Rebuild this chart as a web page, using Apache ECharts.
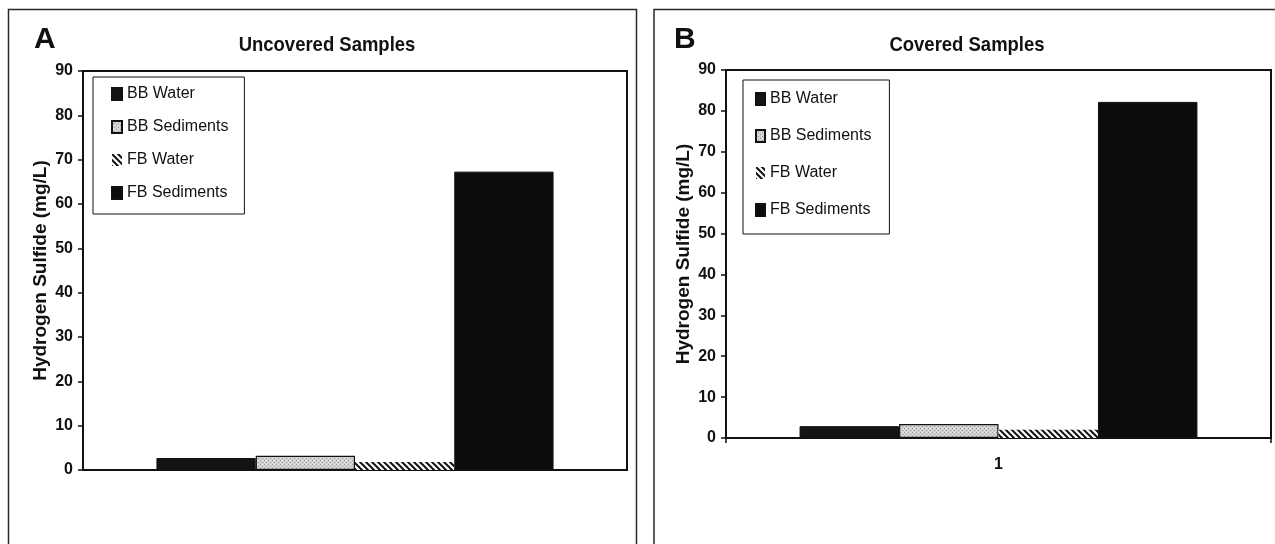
<!DOCTYPE html>
<html>
<head>
<meta charset="utf-8">
<title>Hydrogen Sulfide — Uncovered vs Covered Samples</title>
<script src="https://cdn.jsdelivr.net/npm/echarts@6/dist/echarts.min.js"></script>
<style>
  html, body { margin: 0; padding: 0; background: #fff; }
  #chart { width: 1275px; height: 544px; }
</style>
</head>
<body>
<div id="chart"></div>
<script>
// Sample group shared by both panels
const categories = ['1'];
const seriesNames = ['BB Water', 'BB Sediments', 'FB Water', 'FB Sediments'];

// Hydrogen sulfide concentrations (mg/L)
const uncoveredValues = [2.7, 3.2, 1.8, 67.3];
const coveredValues = [2.9, 3.4, 2.0, 82.2];

// Value axis range
const yMin = 0;
const yMax = 90;
const yStep = 10;

const FONT = '"Liberation Sans", Arial, sans-serif';
const INK = '#111';

// Light grey stipple fill
function stipplePattern() {
  const c = document.createElement('canvas');
  c.width = 4; c.height = 4;
  const g = c.getContext('2d');
  g.fillStyle = '#d2d2d2';
  g.fillRect(0, 0, 4, 4);
  g.fillStyle = '#9a9a9a';
  g.fillRect(0, 0, 1, 1);
  g.fillRect(2, 2, 1, 1);
  g.fillStyle = '#eeeeee';
  g.fillRect(2, 0, 1, 1);
  return c;
}

// Back-slash diagonal hatch
function hatchPattern() {
  const s = 6;
  const c = document.createElement('canvas');
  c.width = s; c.height = s;
  const g = c.getContext('2d');
  g.fillStyle = '#ffffff';
  g.fillRect(0, 0, s, s);
  g.strokeStyle = '#111';
  g.lineWidth = 2;
  g.beginPath();
  g.moveTo(-s, 0); g.lineTo(s, 2 * s);
  g.moveTo(0, 0); g.lineTo(s, s);
  g.moveTo(0, -s); g.lineTo(2 * s, s);
  g.stroke();
  return c;
}

const fills = [
  { color: '#141414', borderColor: INK, borderWidth: 1 },
  { color: { image: stipplePattern(), repeat: 'repeat' }, borderColor: INK, borderWidth: 1.2 },
  { color: { image: hatchPattern(), repeat: 'repeat' }, borderColor: '#555', borderWidth: 0 },
  { color: '#0c0c0c', borderColor: INK, borderWidth: 1 }
];

function barSeries(values, axisIndex) {
  return seriesNames.map((name, i) => ({
    name: name,
    type: 'bar',
    xAxisIndex: axisIndex,
    yAxisIndex: axisIndex,
    data: [values[i]],
    barGap: '0%',
    barCategoryGap: '27%',
    itemStyle: fills[i],
    emphasis: { disabled: true },
    animation: false
  }));
}

function valueAxis(gridIndex) {
  return {
    type: 'value',
    gridIndex: gridIndex,
    min: yMin,
    max: yMax,
    interval: yStep,
    name: 'Hydrogen Sulfide (mg/L)',
    nameLocation: 'middle',
    nameGap: 33,
    nameTextStyle: { fontFamily: FONT, fontWeight: 'bold', fontSize: 19, color: INK },
    axisLine: { show: true, lineStyle: { color: INK, width: 2 } },
    axisTick: { show: true, length: 5, lineStyle: { color: INK, width: 1.5 } },
    axisLabel: { fontFamily: FONT, fontWeight: 'bold', fontSize: 16, color: INK, margin: 10 },
    splitLine: { show: false }
  };
}

function legendBlock(left, top, opts) {
  return {
    orient: 'vertical',
    left: left,
    top: top,
    data: seriesNames,
    selectedMode: false,
    itemWidth: opts.iconW,
    itemHeight: 12,
    itemGap: opts.gap,
    padding: opts.padding,
    icon: 'rect',
    borderColor: INK,
    borderWidth: 1,
    backgroundColor: '#fff',
    textStyle: { fontFamily: FONT, fontSize: 16, color: INK, lineHeight: 16 }
  };
}

function panelText(x, y, text, size, scaleX) {
  return {
    type: 'text',
    x: x,
    y: y,
    scaleX: scaleX,
    silent: true,
    style: {
      x: 0, y: 0,
      text: text,
      textAlign: 'center',
      textVerticalAlign: 'middle',
      font: 'bold ' + size + 'px ' + FONT,
      fill: INK
    }
  };
}

const chart = echarts.init(document.getElementById('chart'), null, { renderer: 'canvas' });

chart.setOption({
  backgroundColor: '#ffffff',
  animation: false,
  grid: [
    { left: 83, top: 71, width: 544, height: 399, show: true, borderColor: INK, borderWidth: 2, backgroundColor: '#fff' },
    { left: 726, top: 70, width: 545, height: 368, show: true, borderColor: INK, borderWidth: 2, backgroundColor: '#fff' }
  ],
  xAxis: [
    {
      type: 'category', gridIndex: 0, data: categories,
      axisLine: { lineStyle: { color: INK, width: 2 } },
      axisTick: { show: false },
      axisLabel: { show: false }
    },
    {
      type: 'category', gridIndex: 1, data: categories,
      axisLine: { lineStyle: { color: INK, width: 2 } },
      axisTick: { show: true, length: 5, lineStyle: { color: INK, width: 1.5 } },
      axisLabel: { fontFamily: FONT, fontWeight: 'bold', fontSize: 16, color: INK, margin: 19 }
    }
  ],
  yAxis: [valueAxis(0), valueAxis(1)],
  legend: [
    legendBlock(93, 77, { iconW: 10, gap: 17, padding: [9, 16, 13, 18] }),
    legendBlock(743, 80, { iconW: 9, gap: 21, padding: [11, 18, 16, 12] })
  ],
  graphic: [
    { type: 'rect', silent: true, shape: { x: 8.5, y: 9.5, width: 628, height: 600 },
      style: { fill: 'none', stroke: '#2a2a2a', lineWidth: 1.5 } },
    { type: 'rect', silent: true, shape: { x: 654, y: 9.5, width: 640, height: 600 },
      style: { fill: 'none', stroke: '#2a2a2a', lineWidth: 1.5 } },
    { type: 'text', silent: true, x: 34, y: 40,
      style: { x: 0, y: 0, text: 'A', textAlign: 'left', textVerticalAlign: 'middle', font: 'bold 30px ' + FONT, fill: INK } },
    { type: 'text', silent: true, x: 674, y: 40,
      style: { x: 0, y: 0, text: 'B', textAlign: 'left', textVerticalAlign: 'middle', font: 'bold 30px ' + FONT, fill: INK } },
    panelText(327, 45, 'Uncovered Samples', 21, 0.88),
    panelText(967, 45, 'Covered Samples', 21, 0.88)
  ],
  series: barSeries(uncoveredValues, 0).concat(barSeries(coveredValues, 1))
});
</script>
</body>
</html>
